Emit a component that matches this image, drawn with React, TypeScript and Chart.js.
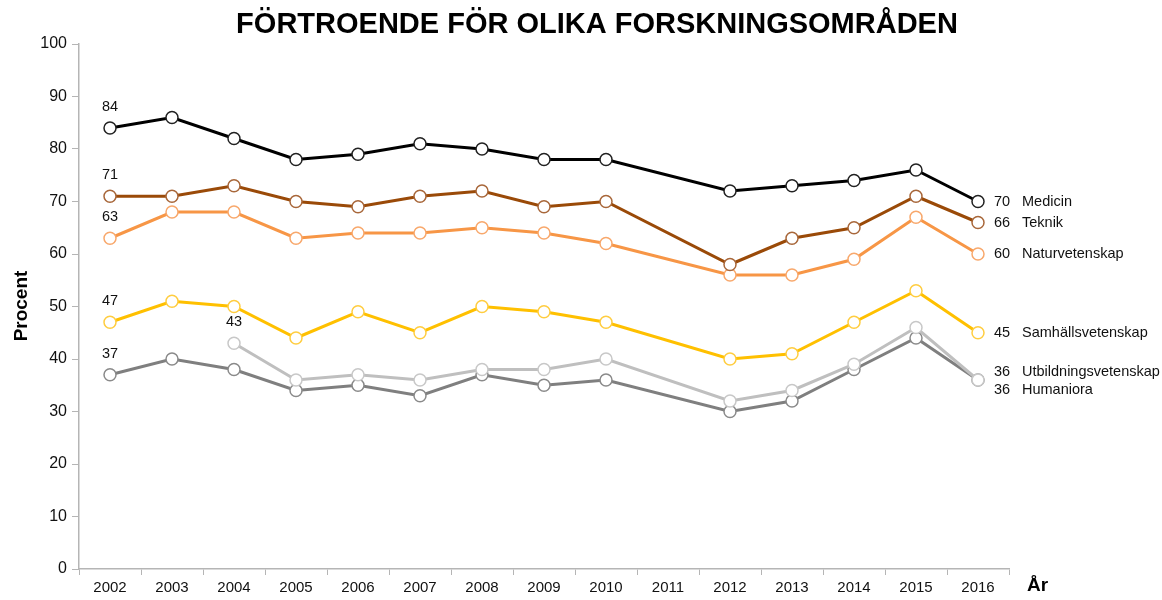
import React, { useEffect, useRef } from "react";
import { Chart, registerables } from "chart.js";

Chart.register(...registerables);

const years = ["2002", "2003", "2004", "2005", "2006", "2007", "2008", "2009", "2010", "2011", "2012", "2013", "2014", "2015", "2016"];
const seriesNames = ["Medicin", "Teknik", "Naturvetenskap", "Samhällsvetenskap", "Utbildningsvetenskap", "Humaniora"];
const medicin = [84, 86, 82, 78, 79, 81, 80, 78, 78, null, 72, 73, 74, 76, 70];
const teknik = [71, 71, 73, 70, 69, 71, 72, 69, 70, null, 58, 63, 65, 71, 66];
const naturvetenskap = [63, 68, 68, 63, 64, 64, 65, 64, 62, null, 56, 56, 59, 67, 60];
const samhallsvetenskap = [47, 51, 50, 44, 49, 45, 50, 49, 47, null, 40, 41, 47, 53, 45];
const utbildningsvetenskap = [null, null, 43, 36, 37, 36, 38, 38, 40, null, 32, 34, 39, 46, 36];
const humaniora = [37, 40, 38, 34, 35, 33, 37, 35, 36, null, 30, 32, 38, 44, 36];
const lineColors = ["#000000", "#9a4a08", "#f79646", "#ffc000", "#bfbfbf", "#7f7f7f"];
const pointEdgeColors = ["#222222", "#a8673a", "#f8a86c", "#ffcd40", "#c8c8c8", "#8a8a8a"];
const endLabelOffsets = [0, 0, 0, 0, -8, 10];
const titleText = "FÖRTROENDE FÖR OLIKA FORSKNINGSOMRÅDEN";
const yTitle = "Procent";
const xTitle = "År";

const FONT = "'Liberation Sans', Arial, Helvetica, sans-serif";

const labelPlugin = {
  id: "customLabels",
  afterDatasetsDraw(chart: any) {
    const ctx = chart.ctx;
    ctx.save();
    ctx.fillStyle = "#000";
    ctx.font = `bold 29px ${FONT}`;
    ctx.textAlign = "center";
    ctx.textBaseline = "middle";
    ctx.fillText(titleText, 597, 25);

    ctx.save();
    ctx.translate(22, 306);
    ctx.rotate(-Math.PI / 2);
    ctx.font = `bold 19px ${FONT}`;
    ctx.fillText(yTitle, 0, 0);
    ctx.restore();

    ctx.font = `bold 19px ${FONT}`;
    ctx.textAlign = "left";
    ctx.fillText(xTitle, 1027, 586);

    ctx.font = `14.5px ${FONT}`;
    ctx.fillStyle = "#111";
    chart.data.datasets.forEach((ds: any, i: number) => {
      const meta = chart.getDatasetMeta(i);
      const first = ds.data.findIndex((v: any) => v !== null);
      if (first >= 0) {
        const pt = meta.data[first];
        ctx.textAlign = "center";
        ctx.fillText(String(ds.data[first]), pt.x, pt.y - 21);
      }
      const last = ds.data.length - 1;
      const lp = meta.data[last];
      const y = lp.y + endLabelOffsets[i];
      ctx.textAlign = "left";
      ctx.fillText(String(ds.data[last]), lp.x + 16, y);
      ctx.fillText(ds.label, lp.x + 44, y);
    });
    ctx.restore();
  },
};

export default function App() {
  const ref = useRef<HTMLCanvasElement>(null);
  useEffect(() => {
    document.body.style.margin = "0";
    const allData = [medicin, teknik, naturvetenskap, samhallsvetenskap, utbildningsvetenskap, humaniora];
    const chart = new Chart(ref.current!, {
      type: "line",
      data: {
        labels: years,
        datasets: allData.map((d, i) => ({
          label: seriesNames[i],
          data: d,
          borderColor: lineColors[i],
          backgroundColor: "#ffffff",
          borderWidth: 3,
          pointRadius: 6,
          pointBorderWidth: 1.5,
          pointBackgroundColor: "#ffffff",
          pointBorderColor: pointEdgeColors[i],
          spanGaps: true,
          tension: 0,
        })),
      },
      options: {
        animation: false,
        responsive: false,
        layout: { padding: { top: 44, right: 153, left: 0, bottom: 0 } },
        plugins: {
          legend: { display: false },
          title: { display: false },
          tooltip: { enabled: false },
        },
        scales: {
          x: {
            type: "category",
            offset: true,
            grid: {
              display: true,
              offset: true,
              drawOnChartArea: false,
              drawTicks: true,
              tickLength: 6,
              color: "#b5b5b5",
              lineWidth: 1,
            },
            border: { display: true, color: "#b5b5b5", width: 1.5 },
            ticks: {
              color: "#111",
              font: { family: FONT, size: 15 },
              padding: 4,
              maxRotation: 0,
              autoSkip: false,
            },
            afterFit(scale: any) {
              scale.height = 31;
            },
          },
          y: {
            min: 0,
            max: 100,
            grid: {
              display: true,
              drawOnChartArea: false,
              drawTicks: true,
              tickLength: 7,
              color: "#b5b5b5",
            },
            border: { display: true, color: "#b5b5b5", width: 1.5 },
            ticks: {
              stepSize: 10,
              color: "#111",
              font: { family: FONT, size: 16 },
              padding: 5,
            },
            afterFit(scale: any) {
              scale.width = 79;
            },
          },
        },
      },
      plugins: [labelPlugin],
    } as any);
    return () => chart.destroy();
  }, []);
  return (
    <div style={{ width: 1162, height: 600, background: "#fff" }}>
      <canvas ref={ref} width={1162} height={600} style={{ display: "block" }} />
    </div>
  );
}
